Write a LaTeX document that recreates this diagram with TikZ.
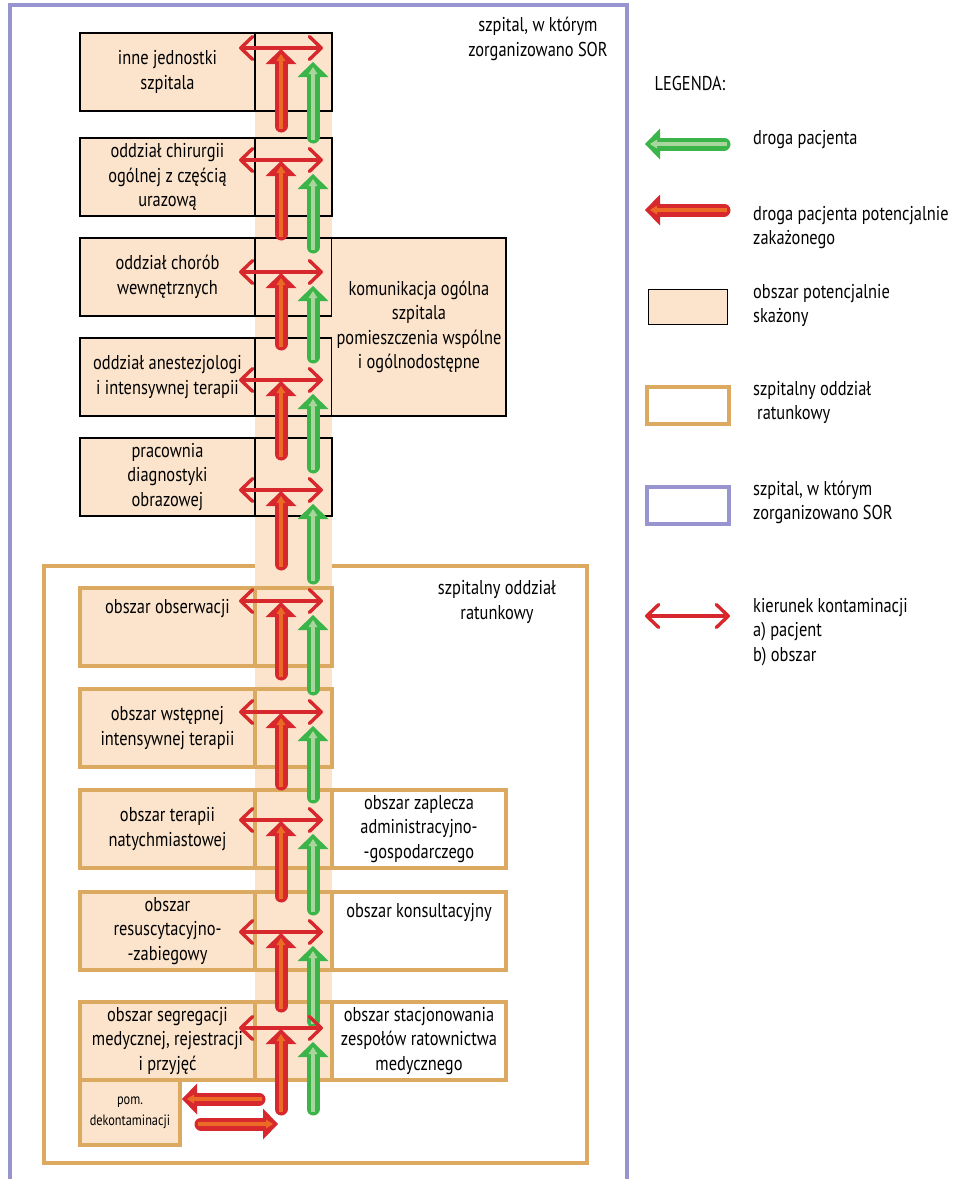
\documentclass[tikz,border=0pt]{standalone}
\usepackage{fontspec}
\setmainfont{PT Sans}[FakeStretch=0.82]
\usetikzlibrary{arrows.meta,positioning}
\definecolor{peach}{RGB}{252,228,204}
\definecolor{sortan}{RGB}{219,170,96}
\definecolor{hosplilac}{RGB}{152,148,208}
\definecolor{flowred}{RGB}{214,40,45}
\definecolor{flowcore}{RGB}{235,106,38}
\definecolor{flowgreen}{RGB}{59,181,74}
\definecolor{flowmint}{RGB}{168,214,156}
\newcommand{\boxfont}{\fontsize{20}{24.5}\selectfont}
\newcommand{\smallboxfont}{\fontsize{15}{20.5}\selectfont}

\begin{document}
\begin{tikzpicture}[x=1pt,y=-1pt]
	\tikzstyle{ward}=[rectangle, draw=black, line width=1.8pt, fill=peach, minimum width=175pt, minimum height=78pt, inner sep=0pt, outer sep=0pt, align=center, font=\boxfont]
	\tikzstyle{cell}=[ward, minimum width=77pt]
	\tikzstyle{sor}=[ward, draw=sortan, line width=3.2pt]
	\tikzstyle{sorcell}=[sor, minimum width=77pt]
	\tikzstyle{side}=[sor, fill=white, minimum width=174pt]
	\tikzstyle{txt}=[font=\boxfont, align=center, inner sep=0pt]
	\tikzstyle{legtxt}=[font=\boxfont, align=left, anchor=west, inner sep=0pt]
	\tikzstyle{contam}=[draw=flowred, line width=3.4pt, <->, >={Straight Barb[length=12pt,width=23pt,round]}]
	\tikzstyle{redout}=[draw=flowred, line width=13pt, line cap=round, -{Triangle[length=15pt,width=31pt,line width=0pt]}]
	\tikzstyle{redin}=[draw=flowcore, line width=3.5pt, -{Triangle[length=7pt,width=9pt,line width=0pt]}, shorten >=5pt, shorten <=-3pt]
	\tikzstyle{greenout}=[redout, draw=flowgreen]
	\tikzstyle{greenin}=[redin, draw=flowmint]
	\useasboundingbox (0,0) rectangle (959,1179);

	% szpital
	\draw[hosplilac, line width=3.2pt] (10,1182) -- (10,5) -- (627,5) -- (627,1182);
	\node[txt] (hosp) at (538,39) {szpital, w którym\\zorganizowano SOR};
	% SOR
	\draw[sortan, line width=3.2pt] (44,566) rectangle (587,1163);
	\node[txt] (sorlbl) at (497,602) {szpitalny oddział\\ratunkowy};
	% korytarz
	\fill[peach] (255,33) rectangle (332,1080);

	\node[ward] (inne) at (167.5,72) {inne jednostki\\szpitala};
	\node[cell, right=0pt of inne] (inneC) {};
	\node[ward, below=27pt of inne] (chir) {oddział chirurgii\\ogólnej z częścią\\urazową};
	\node[cell, right=0pt of chir] (chirC) {};
	\node[ward, below=22pt of chir] (wewn) {oddział chorób\\wewnętrznych};
	\node[cell, right=0pt of wewn] (wewnC) {};
	\node[ward, below=22pt of wewn] (anest) {oddział anestezjologi\\i intensywnej terapii};
	\node[cell, right=0pt of anest] (anestC) {};
	\node[ward, below=22pt of anest] (diag) {pracownia\\diagnostyki\\obrazowej};
	\node[cell, right=0pt of diag] (diagC) {};
	\node[ward, draw=none, minimum width=174pt, minimum height=178pt, anchor=north west] (komun) at (wewnC.north east) {komunikacja ogólna\\szpitala\\pomieszczenia wspólne\\i ogólnodostępne};
	\draw[black, line width=1.8pt] (komun.north west) -- (komun.north east) -- (komun.south east) -- (komun.south west);

	\node[sor, label={[txt, anchor=north, yshift=-11pt]north:obszar obserwacji}] (obs) at (167.5,627) {};
	\node[sorcell, right=0pt of obs] (obsC) {};
	\node[sor, below=23pt of obs] (wstep) {obszar wstępnej\\intensywnej terapii};
	\node[sorcell, right=0pt of wstep] (wstepC) {};
	\node[sor, below=23pt of wstep] (natych) {obszar terapii\\natychmiastowej};
	\node[sorcell, right=0pt of natych] (natychC) {};
	\node[sor, below=24pt of natych] (resus) {obszar\\resuscytacyjno-\\-zabiegowy};
	\node[sorcell, right=0pt of resus] (resusC) {};
	\node[sor, below=32pt of resus] (segr) {obszar segregacji\\medycznej, rejestracji\\i przyjęć};
	\node[sorcell, right=0pt of segr] (segrC) {};
	\node[sor, minimum width=100pt, minimum height=65pt, font=\smallboxfont, anchor=north west] (dekon) at (segr.south west) {pom.\\dekontaminacji};
	\node[side, right=0pt of natychC] (zapl) {obszar zaplecza\\administracyjno-\\-gospodarczego};
	\node[side, right=0pt of resusC, label={[txt, anchor=north, yshift=-11pt]north:obszar konsultacyjny}] (konsul) {};
	\node[side, right=0pt of segrC] (stacj) {obszar stacjonowania\\zespołów ratownictwa\\medycznego};

	% drogi pacjentow
	\foreach \n/\h/\rb/\gb in {1/48/126/137, 2/160/234/247, 3/272/344/357, 4/380/454/467, 5/490/564/578, 6/601/674/689, 7/712/784/797, 8/820/896/909, 9/932/1006/1021, 10/1028/1109/1109} {
		\coordinate (rt\n) at (281,{\h+1});
		\coordinate (rb\n) at (281,\rb);
		\coordinate (gt\n) at (313,{\h+14});
		\coordinate (gb\n) at (313,\gb);
		\coordinate (hl\n) at (239,\h);
		\coordinate (hr\n) at (323,\h);
		\draw[redout] (rb\n) -- (rt\n);
		\draw[redin] (rb\n) -- (rt\n);
		\draw[greenout] (gb\n) -- (gt\n);
		\draw[greenin] (gb\n) -- (gt\n);
		\draw[contam] (hl\n) -- (hr\n);
	}
	\coordinate (dx1) at (259,1099);
	\coordinate (dx2) at (182,1099);
	\coordinate (dx3) at (201,1124);
	\coordinate (dx4) at (278,1124);
	\draw[redout] (dx1) -- (dx2);
	\draw[redin] (dx1) -- (dx2);
	\draw[redout] (dx3) -- (dx4);
	\draw[redin] (dx3) -- (dx4);

	% legenda
	\node[font=\boxfont] (legenda) at (690,83) {LEGENDA:};
	\coordinate (lg1) at (724,144);
	\coordinate (lg2) at (645,144);
	\coordinate (lr1) at (724,210);
	\coordinate (lr2) at (645,210);
	\coordinate (lc1) at (645,616);
	\coordinate (lc2) at (730,616);
	\draw[greenout] (lg1) -- (lg2);
	\draw[greenin] (lg1) -- (lg2);
	\draw[redout] (lr1) -- (lr2);
	\draw[redin] (lr1) -- (lr2);
	\draw[contam] (lc1) -- (lc2);
	\node[ward, minimum width=79pt, minimum height=35pt] (lbox1) at (688,307) {};
	\node[sor, fill=white, minimum width=82pt, minimum height=37pt] (lbox2) at (688,405.5) {};
	\node[sor, fill=white, draw=hosplilac, minimum width=82pt, minimum height=37pt] (lbox3) at (688,505.5) {};
	\node[legtxt] (lt1) at (753,140) {droga pacjenta};
	\node[legtxt] (lt2) at (753,227.5) {droga pacjenta potencjalnie\\zakażonego};
	\node[legtxt] (lt3) at (753,305.5) {obszar potencjalnie\\skażony};
	\node[legtxt] (lt4) at (753,402.5) {szpitalny oddział\\\hspace{4pt}ratunkowy};
	\node[legtxt] (lt5) at (753,502.5) {szpital, w którym\\zorganizowano SOR};
	\node[legtxt] (lt6) at (753,632) {kierunek kontaminacji\\a) pacjent\\b) obszar};
\end{tikzpicture}
\end{document}
